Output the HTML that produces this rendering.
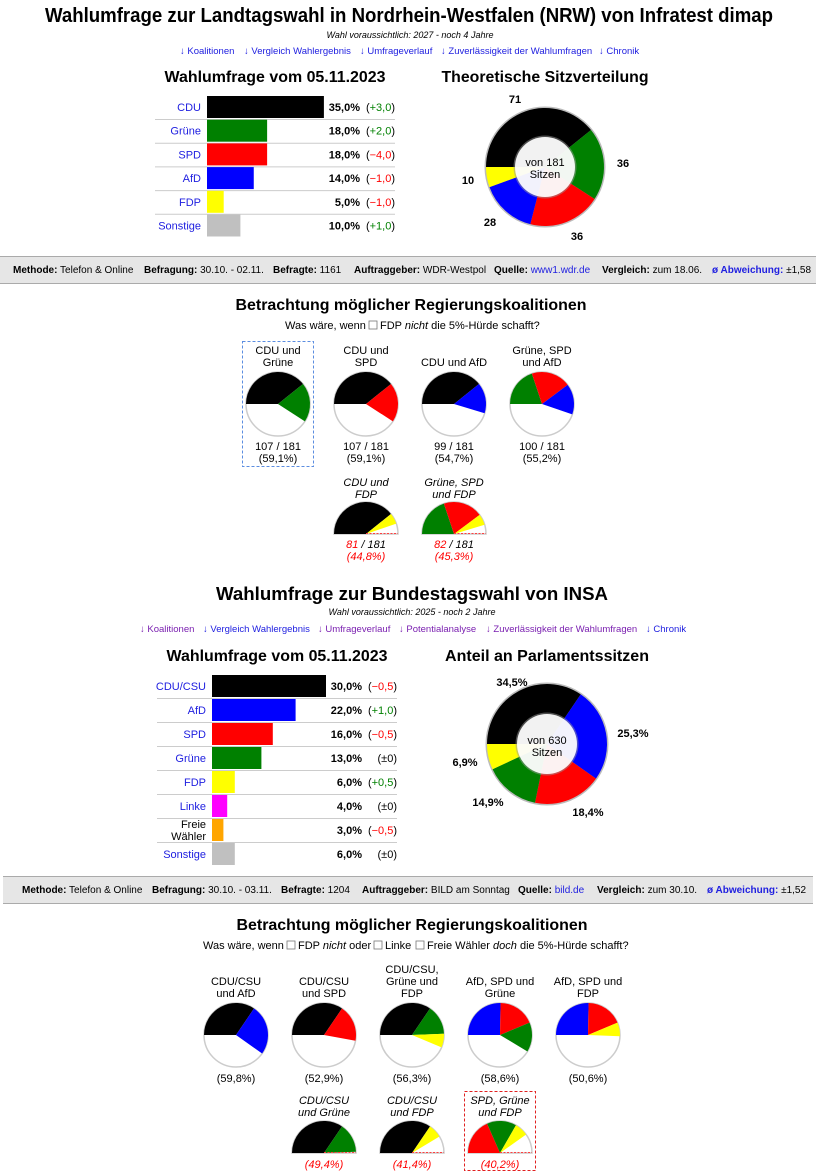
<!DOCTYPE html>
<html><head><meta charset="utf-8">
<style>
html,body{margin:0;padding:0;background:#fff;}
svg{display:block;font-family:"Liberation Sans",Arial,sans-serif;}
.b{font-weight:bold}
.lk{fill:#2020e0}
.vl{fill:#7a1fb0}
.s{font-size:11px}
.m{font-size:10px}
.g{fill:#008000}
.r{fill:#ff0000}
</style></head><body>
<svg id="s" width="816" height="1176" viewBox="0 0 816 1176" xmlns="http://www.w3.org/2000/svg">
<text x="409" y="22" text-anchor="middle" class="b" font-size="20" textLength="728" lengthAdjust="spacingAndGlyphs">Wahlumfrage zur Landtagswahl in Nordrhein-Westfalen (NRW) von Infratest dimap</text>
<text x="410" y="38" text-anchor="middle" font-size="9" font-style="italic">Wahl voraussichtlich: 2027 - noch 4 Jahre</text>
<g font-size="9.5" class="lk">
<text x="180" y="54">↓ Koalitionen</text>
<text x="244" y="54">↓ Vergleich Wahlergebnis</text>
<text x="360" y="54">↓ Umfrageverlauf</text>
<text x="441" y="54">↓ Zuverlässigkeit der Wahlumfragen</text>
<text x="599" y="54">↓ Chronik</text>
</g>
<text x="275" y="82" text-anchor="middle" class="b" font-size="16" textLength="221" lengthAdjust="spacingAndGlyphs">Wahlumfrage vom 05.11.2023</text>
<text x="545" y="82" text-anchor="middle" class="b" font-size="16" textLength="207" lengthAdjust="spacingAndGlyphs">Theoretische Sitzverteilung</text>
<g id="bars1"></g>
<g id="donut1"></g>
<g class="b s">
<text x="515" y="103" text-anchor="middle">71</text>
<text x="623" y="167" text-anchor="middle">36</text>
<text x="577" y="240" text-anchor="middle">36</text>
<text x="490" y="226" text-anchor="middle">28</text>
<text x="468" y="184" text-anchor="middle">10</text>
</g>
<text x="545" y="166" text-anchor="middle" class="s">von 181</text>
<text x="545" y="178" text-anchor="middle" class="s">Sitzen</text>

<rect x="0" y="256" width="816" height="28" fill="#e6e6e6"/>
<line x1="0" y1="256.5" x2="816" y2="256.5" stroke="#aaa"/>
<line x1="0" y1="283.5" x2="816" y2="283.5" stroke="#aaa"/>
<g class="m">
<text x="13" y="273"><tspan class="b">Methode:</tspan> Telefon &amp; Online</text>
<text x="144" y="273"><tspan class="b">Befragung:</tspan> 30.10. - 02.11.</text>
<text x="273" y="273"><tspan class="b">Befragte:</tspan> 1161</text>
<text x="354" y="273"><tspan class="b">Auftraggeber:</tspan> WDR-Westpol</text>
<text x="494" y="273"><tspan class="b">Quelle:</tspan> <tspan class="lk">www1.wdr.de</tspan></text>
<text x="602" y="273"><tspan class="b">Vergleich:</tspan> zum 18.06.</text>
<text x="712" y="273"><tspan class="b lk">ø Abweichung:</tspan> ±1,58</text>
</g>

<text x="411" y="310" text-anchor="middle" class="b" font-size="16" textLength="351" lengthAdjust="spacingAndGlyphs">Betrachtung möglicher Regierungskoalitionen</text>
<text x="285" y="329" class="s">Was wäre, wenn</text>
<rect x="369" y="321" width="8" height="8" fill="#fff" stroke="#777" stroke-width="0.8"/>
<text x="380" y="329" class="s">FDP <tspan font-style="italic">nicht</tspan> die 5%-Hürde schafft?</text>

<rect x="242.5" y="341.5" width="71" height="125" fill="none" stroke="#5b8de0" stroke-dasharray="3,2"/>
<g class="s" text-anchor="middle">
<text x="278" y="354">CDU und</text><text x="278" y="366">Grüne</text>
<text x="366" y="354">CDU und</text><text x="366" y="366">SPD</text>
<text x="454" y="366">CDU und AfD</text>
<text x="542" y="354">Grüne, SPD</text><text x="542" y="366">und AfD</text>
<text x="278" y="450">107 / 181</text><text x="278" y="462">(59,1%)</text>
<text x="366" y="450">107 / 181</text><text x="366" y="462">(59,1%)</text>
<text x="454" y="450">99 / 181</text><text x="454" y="462">(54,7%)</text>
<text x="542" y="450">100 / 181</text><text x="542" y="462">(55,2%)</text>
<g font-style="italic">
<text x="366" y="486">CDU und</text><text x="366" y="498">FDP</text>
<text x="454" y="486">Grüne, SPD</text><text x="454" y="498">und FDP</text>
<text x="366" y="548"><tspan class="r">81</tspan> / 181</text><text x="366" y="560" class="r">(44,8%)</text>
<text x="454" y="548"><tspan class="r">82</tspan> / 181</text><text x="454" y="560" class="r">(45,3%)</text>
</g>
</g>

<text x="412" y="600" text-anchor="middle" class="b" font-size="18" textLength="392" lengthAdjust="spacingAndGlyphs">Wahlumfrage zur Bundestagswahl von INSA</text>
<text x="412" y="615" text-anchor="middle" font-size="9" font-style="italic">Wahl voraussichtlich: 2025 - noch 2 Jahre</text>
<g font-size="9.5">
<text x="140" y="632" class="vl">↓ Koalitionen</text>
<text x="203" y="632" class="lk">↓ Vergleich Wahlergebnis</text>
<text x="318" y="632" class="vl">↓ Umfrageverlauf</text>
<text x="399" y="632" class="vl">↓ Potentialanalyse</text>
<text x="486" y="632" class="vl">↓ Zuverlässigkeit der Wahlumfragen</text>
<text x="646" y="632" class="lk">↓ Chronik</text>
</g>
<text x="277" y="661" text-anchor="middle" class="b" font-size="16" textLength="221" lengthAdjust="spacingAndGlyphs">Wahlumfrage vom 05.11.2023</text>
<text x="547" y="661" text-anchor="middle" class="b" font-size="16" textLength="204" lengthAdjust="spacingAndGlyphs">Anteil an Parlamentssitzen</text>
<g id="bars2"></g>
<g id="donut2"></g>
<g class="b s">
<text x="512" y="686" text-anchor="middle">34,5%</text>
<text x="633" y="737" text-anchor="middle">25,3%</text>
<text x="588" y="816" text-anchor="middle">18,4%</text>
<text x="488" y="806" text-anchor="middle">14,9%</text>
<text x="465" y="766" text-anchor="middle">6,9%</text>
</g>
<text x="547" y="744" text-anchor="middle" class="s">von 630</text>
<text x="547" y="756" text-anchor="middle" class="s">Sitzen</text>

<rect x="3" y="876" width="810" height="28" fill="#e6e6e6"/>
<line x1="3" y1="876.5" x2="813" y2="876.5" stroke="#aaa"/>
<line x1="3" y1="903.5" x2="813" y2="903.5" stroke="#aaa"/>
<g class="m">
<text x="22" y="893"><tspan class="b">Methode:</tspan> Telefon &amp; Online</text>
<text x="152" y="893"><tspan class="b">Befragung:</tspan> 30.10. - 03.11.</text>
<text x="281" y="893"><tspan class="b">Befragte:</tspan> 1204</text>
<text x="362" y="893"><tspan class="b">Auftraggeber:</tspan> BILD am Sonntag</text>
<text x="518" y="893"><tspan class="b">Quelle:</tspan> <tspan class="lk">bild.de</tspan></text>
<text x="597" y="893"><tspan class="b">Vergleich:</tspan> zum 30.10.</text>
<text x="707" y="893"><tspan class="b lk">ø Abweichung:</tspan> ±1,52</text>
</g>

<text x="412" y="930" text-anchor="middle" class="b" font-size="16" textLength="351" lengthAdjust="spacingAndGlyphs">Betrachtung möglicher Regierungskoalitionen</text>
<g class="s">
<text x="203" y="949">Was wäre, wenn</text>
<rect x="287" y="941" width="8" height="8" fill="#fff" stroke="#777" stroke-width="0.8"/>
<text x="298" y="949">FDP <tspan font-style="italic">nicht</tspan> oder</text>
<rect x="374" y="941" width="8" height="8" fill="#fff" stroke="#777" stroke-width="0.8"/>
<text x="385" y="949">Linke</text>
<rect x="416" y="941" width="8" height="8" fill="#fff" stroke="#777" stroke-width="0.8"/>
<text x="427" y="949">Freie Wähler <tspan font-style="italic">doch</tspan> die 5%-Hürde schafft?</text>
</g>
<rect x="464.5" y="1091.5" width="71" height="79" fill="none" stroke="#e02020" stroke-dasharray="3,2"/>
<g class="s" text-anchor="middle">
<text x="236" y="985">CDU/CSU</text><text x="236" y="997">und AfD</text>
<text x="324" y="985">CDU/CSU</text><text x="324" y="997">und SPD</text>
<text x="412" y="973">CDU/CSU,</text><text x="412" y="985">Grüne und</text><text x="412" y="997">FDP</text>
<text x="500" y="985">AfD, SPD und</text><text x="500" y="997">Grüne</text>
<text x="588" y="985">AfD, SPD und</text><text x="588" y="997">FDP</text>
<text x="236" y="1082">(59,8%)</text>
<text x="324" y="1082">(52,9%)</text>
<text x="412" y="1082">(56,3%)</text>
<text x="500" y="1082">(58,6%)</text>
<text x="588" y="1082">(50,6%)</text>
<g font-style="italic">
<text x="324" y="1104">CDU/CSU</text><text x="324" y="1116">und Grüne</text>
<text x="412" y="1104">CDU/CSU</text><text x="412" y="1116">und FDP</text>
<text x="500" y="1104">SPD, Grüne</text><text x="500" y="1116">und FDP</text>
<text x="324" y="1168" class="r">(49,4%)</text>
<text x="412" y="1168" class="r">(41,4%)</text>
<text x="500" y="1168" class="r">(40,2%)</text>
</g>
</g>
<g id="pies"></g>
</svg>
<script>
var NS="http://www.w3.org/2000/svg";
function el(p,t,a,txt){var e=document.createElementNS(NS,t);for(var k in a)e.setAttribute(k,a[k]);if(txt!=null)e.textContent=txt;p.appendChild(e);return e;}
var C={B:"#000",G:"#008000",R:"#ff0000",A:"#0000ff",Y:"#ffff00",L:"#ff00ff",O:"#ffa500",S:"#c0c0c0"};
function pt(cx,cy,r,d){var a=d*Math.PI/180;return [cx+r*Math.sin(a),cy-r*Math.cos(a)];}
function sector(g,cx,cy,r,a0,a1,col){var p0=pt(cx,cy,r,a0),p1=pt(cx,cy,r,a1);var lg=(a1-a0)>180?1:0;
el(g,"path",{d:"M"+cx+","+cy+"L"+p0[0]+","+p0[1]+"A"+r+","+r+" 0 "+lg+" 1 "+p1[0]+","+p1[1]+"Z",fill:col});}
function pie(cx,cy,r,segs,half){var g=document.getElementById("pies");
if(half){el(g,"path",{d:"M"+(cx-r)+","+cy+"A"+r+","+r+" 0 0 1 "+(cx+r)+","+cy+"Z",fill:"#fff",stroke:"#ccc","stroke-width":1.5});}
else el(g,"circle",{cx:cx,cy:cy,r:r,fill:"#fff",stroke:"#ccc","stroke-width":1.5});
var a=270;segs.forEach(function(s){var d=s[0]*3.6;sector(g,cx,cy,r,a,a+d,C[s[1]]);a+=d;});
if(half)el(g,"line",{x1:cx,y1:cy-0.5,x2:cx+r,y2:cy-0.5,stroke:"#ff4040","stroke-dasharray":"2,1.5","stroke-width":1});}
function donut(id,cx,cy,r,ri,segs){var g=document.getElementById(id);
el(g,"circle",{cx:cx,cy:cy,r:r+1.5,fill:"#bbb"});
var a=270;segs.forEach(function(s){var d=s[0]*3.6;sector(g,cx,cy,r,a,a+d,C[s[1]]);a+=d;});
el(g,"circle",{cx:cx,cy:cy,r:ri+1.5,fill:"#999",opacity:0.5});
el(g,"circle",{cx:cx,cy:cy,r:ri,fill:"#fff",opacity:0.93});}
function bars(id,x0,sc,rows,y0,pitch,valx,chx,sepx0,sepx1){var g=document.getElementById(id);
rows.forEach(function(r,i){var cy=y0+i*pitch;
el(g,"rect",{x:x0,y:cy-11,width:r[1]*sc,height:22,fill:C[r[2]]});
if(i<rows.length-1)el(g,"line",{x1:sepx0,y1:cy+12.5,x2:sepx1,y2:cy+12.5,stroke:"#ccc"});
if(r[4]){el(g,"text",{x:x0-6,y:cy-2,"text-anchor":"end","font-size":11},r[0]);el(g,"text",{x:x0-6,y:cy+10,"text-anchor":"end","font-size":11},r[4]);}
else el(g,"text",{x:x0-6,y:cy+4,"text-anchor":"end","font-size":11,fill:"#2020e0"},r[0]);
el(g,"text",{x:valx,y:cy+4,"text-anchor":"end","font-size":11,"font-weight":"bold"},r[1].toFixed(1).replace(".",",")+"%");
var t=el(g,"text",{x:chx,y:cy+4,"text-anchor":"end","font-size":11});
var c=r[3];el(t,"tspan",{},"(");var col=c[0]=="+"?"#008000":(c[0]=="−"?"#ff0000":"#000");el(t,"tspan",{fill:col},c);el(t,"tspan",{},")");});}
bars("bars1",207,3.34,[["CDU",35,"B","+3,0"],["Grüne",18,"G","+2,0"],["SPD",18,"R","−4,0"],["AfD",14,"A","−1,0"],["FDP",5,"Y","−1,0"],["Sonstige",10,"S","+1,0"]],107,23.7,360,395,155,395);
bars("bars2",212,3.8,[["CDU/CSU",30,"B","−0,5"],["AfD",22,"A","+1,0"],["SPD",16,"R","−0,5"],["Grüne",13,"G","±0"],["FDP",6,"Y","+0,5"],["Linke",4,"L","±0"],["Freie",3,"O","−0,5","Wähler"],["Sonstige",6,"S","±0"]],686,24,362,397,157,397);
donut("donut1",545,167,59,30,[[71/1.81,"B"],[36/1.81,"G"],[36/1.81,"R"],[28/1.81,"A"],[10/1.81,"Y"]]);
donut("donut2",547,744,60,30,[[34.5,"B"],[25.3,"A"],[18.4,"R"],[14.9,"G"],[6.9,"Y"]]);
var s=1/1.81;
pie(278,404,32,[[71*s,"B"],[36*s,"G"]]);
pie(366,404,32,[[71*s,"B"],[36*s,"R"]]);
pie(454,404,32,[[71*s,"B"],[28*s,"A"]]);
pie(542,404,32,[[36*s,"G"],[36*s,"R"],[28*s,"A"]]);
pie(366,534,32,[[71*s,"B"],[10*s,"Y"]],1);
pie(454,534,32,[[36*s,"G"],[36*s,"R"],[10*s,"Y"]],1);
pie(236,1035,32,[[34.5,"B"],[25.3,"A"]]);
pie(324,1035,32,[[34.5,"B"],[18.4,"R"]]);
pie(412,1035,32,[[34.5,"B"],[14.9,"G"],[6.9,"Y"]]);
pie(500,1035,32,[[25.3,"A"],[18.4,"R"],[14.9,"G"]]);
pie(588,1035,32,[[25.3,"A"],[18.4,"R"],[6.9,"Y"]]);
pie(324,1153,32,[[34.5,"B"],[14.9,"G"]],1);
pie(412,1153,32,[[34.5,"B"],[6.9,"Y"]],1);
pie(500,1153,32,[[18.4,"R"],[14.9,"G"],[6.9,"Y"]],1);
</script>
</body></html>
